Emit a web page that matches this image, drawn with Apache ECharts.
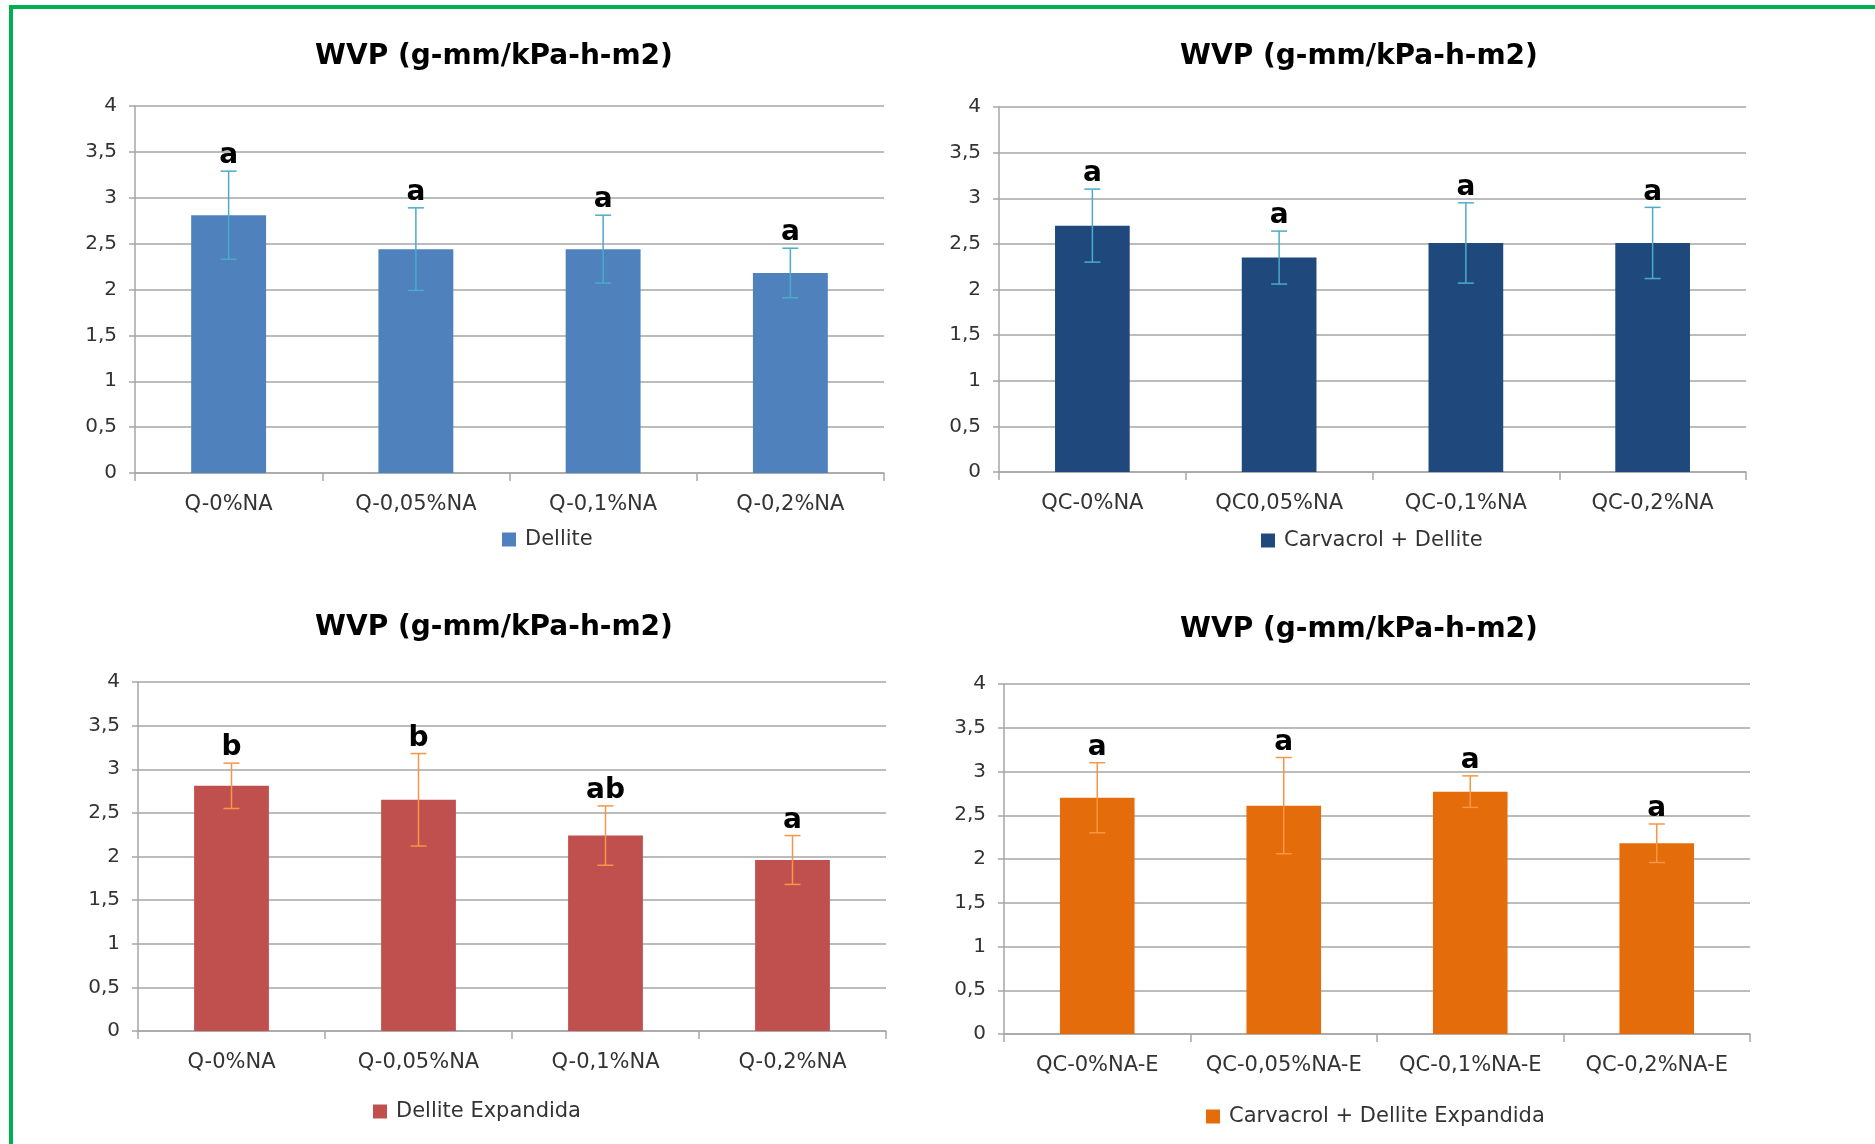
<!DOCTYPE html>
<html>
<head>
<meta charset="utf-8">
<script src="https://cdn.jsdelivr.net/npm/echarts@6/dist/echarts.min.js"></script>
<style>
  html, body { margin: 0; padding: 0; background: #ffffff; }
  #main { width: 1875px; height: 1144px; }
</style>
</head>
<body>
<div id="main"></div>
<script>
  // categorias de cada painel
  var catDellite = ['Q-0%NA', 'Q-0,05%NA', 'Q-0,1%NA', 'Q-0,2%NA'];
  var catCarvacrol = ['QC-0%NA', 'QC0,05%NA', 'QC-0,1%NA', 'QC-0,2%NA'];
  var catDelliteExp = ['Q-0%NA', 'Q-0,05%NA', 'Q-0,1%NA', 'Q-0,2%NA'];
  var catCarvacrolExp = ['QC-0%NA-E', 'QC-0,05%NA-E', 'QC-0,1%NA-E', 'QC-0,2%NA-E'];

  // WVP medio
  var wvpDellite = [2.81, 2.44, 2.44, 2.18];
  var wvpCarvacrol = [2.70, 2.35, 2.51, 2.51];
  var wvpDelliteExp = [2.81, 2.65, 2.24, 1.96];
  var wvpCarvacrolExp = [2.70, 2.61, 2.77, 2.18];

  // desvio padrao
  var sdDellite = [0.48, 0.45, 0.37, 0.27];
  var sdCarvacrol = [0.40, 0.29, 0.44, 0.39];
  var sdDelliteExp = [0.26, 0.53, 0.34, 0.28];
  var sdCarvacrolExp = [0.40, 0.55, 0.18, 0.22];

  // letras de significancia
  var letDellite = ['a', 'a', 'a', 'a'];
  var letCarvacrol = ['a', 'a', 'a', 'a'];
  var letDelliteExp = ['b', 'b', 'ab', 'a'];
  var letCarvacrolExp = ['a', 'a', 'a', 'a'];

  var yTicks = [0, 0.5, 1, 1.5, 2, 2.5, 3, 3.5, 4];

  var FONT = '"DejaVu Sans", sans-serif';
  var GRIDC = '#a6a6a6';

  var panels = [
    { name: 'Dellite', cats: catDellite, vals: wvpDellite, sd: sdDellite, let: letDellite,
      color: '#4F81BD', err: '#4BACC6',
      grid: { left: 135, top: 106, width: 749, height: 367 },
      titleX: 489, titleY: 38, legendX: 497, legendY: 524 },
    { name: 'Carvacrol + Dellite', cats: catCarvacrol, vals: wvpCarvacrol, sd: sdCarvacrol, let: letCarvacrol,
      color: '#1F497D', err: '#4BACC6',
      grid: { left: 999, top: 107, width: 747, height: 365 },
      titleX: 1354, titleY: 38, legendX: 1256, legendY: 525 },
    { name: 'Dellite Expandida', cats: catDelliteExp, vals: wvpDelliteExp, sd: sdDelliteExp, let: letDelliteExp,
      color: '#C0504D', err: '#F79646',
      grid: { left: 138, top: 682, width: 748, height: 349 },
      titleX: 489, titleY: 609, legendX: 368, legendY: 1096 },
    { name: 'Carvacrol + Dellite Expandida', cats: catCarvacrolExp, vals: wvpCarvacrolExp, sd: sdCarvacrolExp, let: letCarvacrolExp,
      color: '#E46C0A', err: '#F79646',
      grid: { left: 1004, top: 684, width: 746, height: 350 },
      titleX: 1354, titleY: 611, legendX: 1201, legendY: 1101 }
  ];

  function errRender(p) {
    return function (params, api) {
      var i = api.value(0), v = api.value(1), e = api.value(2);
      var hi = api.coord([i, v + e]);
      var lo = api.coord([i, v - e]);
      var half = 8;
      var st = { stroke: p.err, lineWidth: 1.5 };
      return {
        type: 'group',
        children: [
          { type: 'line', shape: { x1: hi[0], y1: hi[1], x2: lo[0], y2: lo[1] }, style: st },
          { type: 'line', shape: { x1: hi[0] - half, y1: hi[1], x2: hi[0] + half, y2: hi[1] }, style: st },
          { type: 'line', shape: { x1: lo[0] - half, y1: lo[1], x2: lo[0] + half, y2: lo[1] }, style: st },
          { type: 'text', x: hi[0], y: hi[1] - 1,
            style: { text: p.let[params.dataIndex], fill: '#000000', font: 'bold 28px ' + FONT,
                     align: 'center', verticalAlign: 'bottom' } }
        ]
      };
    };
  }

  var option = {
    backgroundColor: '#ffffff',
    animation: false,
    title: [], legend: [], grid: [], xAxis: [], yAxis: [], series: [],
    graphic: [
      { type: 'rect', shape: { x: 9, y: 5, width: 1866, height: 4 }, style: { fill: '#00B050' } },
      { type: 'rect', shape: { x: 9, y: 5, width: 4, height: 1139 }, style: { fill: '#00B050' } }
    ]
  };

  panels.forEach(function (p, k) {
    option.title.push({
      text: 'WVP (g-mm/kPa-h-m2)',
      left: p.titleX, top: p.titleY, textAlign: 'center',
      textStyle: { fontFamily: FONT, fontSize: 28, fontWeight: 'bold', color: '#000000' }
    });
    option.legend.push({
      data: [p.name],
      left: p.legendX, top: p.legendY,
      icon: 'rect', itemWidth: 14, itemHeight: 14, itemGap: 6,
      textStyle: { fontFamily: FONT, fontSize: 21, color: '#333333', padding: [0, 0, 0, 4] }
    });
    option.grid.push(p.grid);
    option.xAxis.push({
      type: 'category', gridIndex: k, data: p.cats,
      axisLine: { lineStyle: { color: GRIDC, width: 1.5 } },
      axisTick: { show: true, length: 8, lineStyle: { color: GRIDC, width: 1.5 } },
      axisLabel: { fontFamily: FONT, fontSize: 21, color: '#333333', margin: 21, interval: 0 },
      splitLine: { show: false }
    });
    option.yAxis.push({
      type: 'value', gridIndex: k, min: yTicks[0], max: yTicks[yTicks.length - 1], interval: 0.5,
      axisLine: { show: true, lineStyle: { color: GRIDC, width: 1.5 } },
      axisTick: { show: true, length: 6, lineStyle: { color: GRIDC, width: 1.5 } },
      axisLabel: { fontFamily: FONT, fontSize: 20, color: '#333333', margin: 18,
                   formatter: function (v) { return String(v).replace('.', ','); } },
      splitLine: { lineStyle: { color: GRIDC, width: 1.5 } }
    });
    option.series.push({
      name: p.name, type: 'bar', xAxisIndex: k, yAxisIndex: k,
      data: p.vals, barWidth: '40%',
      itemStyle: { color: p.color }
    });
    option.series.push({
      name: p.name + ' erro', type: 'custom', xAxisIndex: k, yAxisIndex: k,
      renderItem: errRender(p), z: 5,
      data: p.vals.map(function (v, i) { return [i, v, p.sd[i]]; })
    });
  });

  var chart = echarts.init(document.getElementById('main'));
  chart.setOption(option);
</script>
</body>
</html>
